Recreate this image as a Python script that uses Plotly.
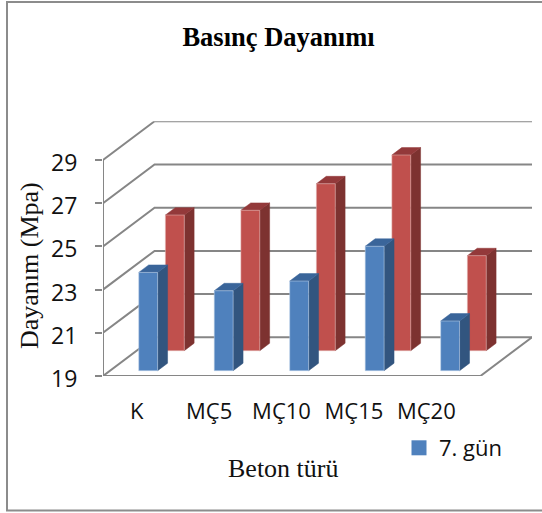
import plotly.graph_objects as go

categories = ["K", "MÇ5", "MÇ10", "MÇ15", "MÇ20"]
values_7 = [23.55, 22.7, 23.15, 24.76, 21.3]
values_other = [25.28, 25.5, 26.73, 28.06, 23.4]
y_ticks = [19, 21, 23, 25, 27, 29]
title = "Basınç Dayanımı"
x_title = "Beton türü"
y_title = "Dayanım (Mpa)"
legend_name = "7. gün"

W, H = 542, 513
L, R, T, B = 103, 532, 121.3, 376
BASE = 19
DX = 0.683   # wall depth in category units
DY = 1.792   # wall depth in value units
GRID = "#868686"


def wall_lines():
    xs, ys = [], []
    for v in y_ticks:
        xs += [0, DX, 5 + DX, None]
        ys += [v, v + DY, v + DY, None]
    # floor outline and vertical axis
    xs += [0, 5, 5 + DX, None, 0, 0]
    ys += [BASE, BASE, BASE + DY, None, BASE, y_ticks[-1]]
    return xs, ys


def faces(values, x0, x1, d0, d1):
    front, side, top = ([], []), ([], []), ([], [])
    for i, v in enumerate(values):
        a, b = i + x0, i + x1
        fx = [a + d0 * DX, b + d0 * DX, b + d0 * DX, a + d0 * DX, a + d0 * DX, None]
        fy = [BASE + d0 * DY, BASE + d0 * DY, v + d0 * DY, v + d0 * DY, BASE + d0 * DY, None]
        sx = [b + d0 * DX, b + d1 * DX, b + d1 * DX, b + d0 * DX, b + d0 * DX, None]
        sy = [BASE + d0 * DY, BASE + d1 * DY, v + d1 * DY, v + d0 * DY, BASE + d0 * DY, None]
        tx = [a + d0 * DX, b + d0 * DX, b + d1 * DX, a + d1 * DX, a + d0 * DX, None]
        ty = [v + d0 * DY, v + d0 * DY, v + d1 * DY, v + d1 * DY, v + d0 * DY, None]
        for store, px, py in ((front, fx, fy), (side, sx, sy), (top, tx, ty)):
            store[0].extend(px)
            store[1].extend(py)
    return front, side, top


def add_bars(fig, values, x0, x1, d0, d1, colors, halo):
    front, side, top = faces(values, x0, x1, d0, d1)
    for pts, col, edge, w in ((side, colors[1], colors[1], 0.5),
                              (top, colors[2], colors[2], 0.5),
                              (front, colors[0], halo, 1)):
        fig.add_trace(go.Scatter(x=pts[0], y=pts[1], mode="lines", fill="toself",
                                 fillcolor=col, line=dict(color=edge, width=w),
                                 hoverinfo="skip", showlegend=False, cliponaxis=False))


fig = go.Figure()
gx, gy = wall_lines()
fig.add_trace(go.Scatter(x=gx, y=gy, mode="lines", line=dict(color=GRID, width=2),
                         hoverinfo="skip", showlegend=False, cliponaxis=False))
add_bars(fig, values_other, 0.38, 0.63, 0.654, 0.845,
         ("#C0504D", "#7D3230", "#93393A"), "rgba(227,182,180,0.55)")
add_bars(fig, values_7, 0.38, 0.63, 0.137, 0.33,
         ("#4F81BD", "#32557F", "#3A659A"), "rgba(188,208,232,0.55)")
fig.add_trace(go.Scatter(x=[None], y=[None], mode="markers", name=legend_name,
                         marker=dict(symbol="square", size=15, color="#4F81BD"),
                         showlegend=True))

fig.update_layout(
    width=W, height=H, margin=dict(l=0, r=0, t=0, b=0, autoexpand=False), autosize=False,
    paper_bgcolor="white", plot_bgcolor="white",
    title=dict(text=f"<b>{title}</b>", x=278.5 / W, y=1 - 37 / H, xanchor="center", yanchor="middle",
               font=dict(family="Liberation Serif", size=26.5, color="#000000")),
    legend=dict(x=399 / W, y=1 - 448 / H, xanchor="left", yanchor="middle",
                bgcolor="rgba(0,0,0,0)", font=dict(family="Open Sans", size=22, color="#111111")),
    xaxis=dict(domain=[L / W, R / W], range=[0, 5 + DX], showgrid=False, zeroline=False,
               showline=False, tickmode="array",
               tickvals=[0.447 + 0.959 * i for i in range(5)], ticktext=categories,
               ticks="", ticklabelstandoff=20,
               tickfont=dict(family="Open Sans", size=22, color="#111111")),
    yaxis=dict(domain=[1 - B / H, 1 - T / H], range=[BASE, y_ticks[-1] + DY], showgrid=False,
               zeroline=False, showline=False, tickmode="array", tickvals=y_ticks,
               ticks="outside", ticklen=7, tickwidth=2, tickcolor=GRID, ticklabelstandoff=13,
               ticklabelshift=3,
               tickfont=dict(family="Open Sans", size=23, color="#111111")),
    annotations=[
        dict(text=x_title, xref="paper", yref="paper", x=283.5 / W, y=1 - 468 / H, showarrow=False,
             xanchor="center", yanchor="middle",
             font=dict(family="Liberation Serif", size=26, color="#111111")),
        dict(text=y_title, xref="paper", yref="paper", x=29 / W, y=1 - 266 / H, showarrow=False,
             textangle=-90, xanchor="center", yanchor="middle",
             font=dict(family="Liberation Serif", size=26, color="#111111")),
    ],
    shapes=[dict(type="rect", xref="paper", yref="paper", x0=7 / W, x1=1.02, y0=1 - 510.5 / H, y1=1 - 2 / H,
                 line=dict(color="#8C8C8C", width=2), fillcolor="rgba(0,0,0,0)", layer="below")],
)

fig.write_html("out.html", config={"responsive": False, "displayModeBar": False},
               post_script="document.body.style.margin='0';document.documentElement.style.overflow='hidden';")
